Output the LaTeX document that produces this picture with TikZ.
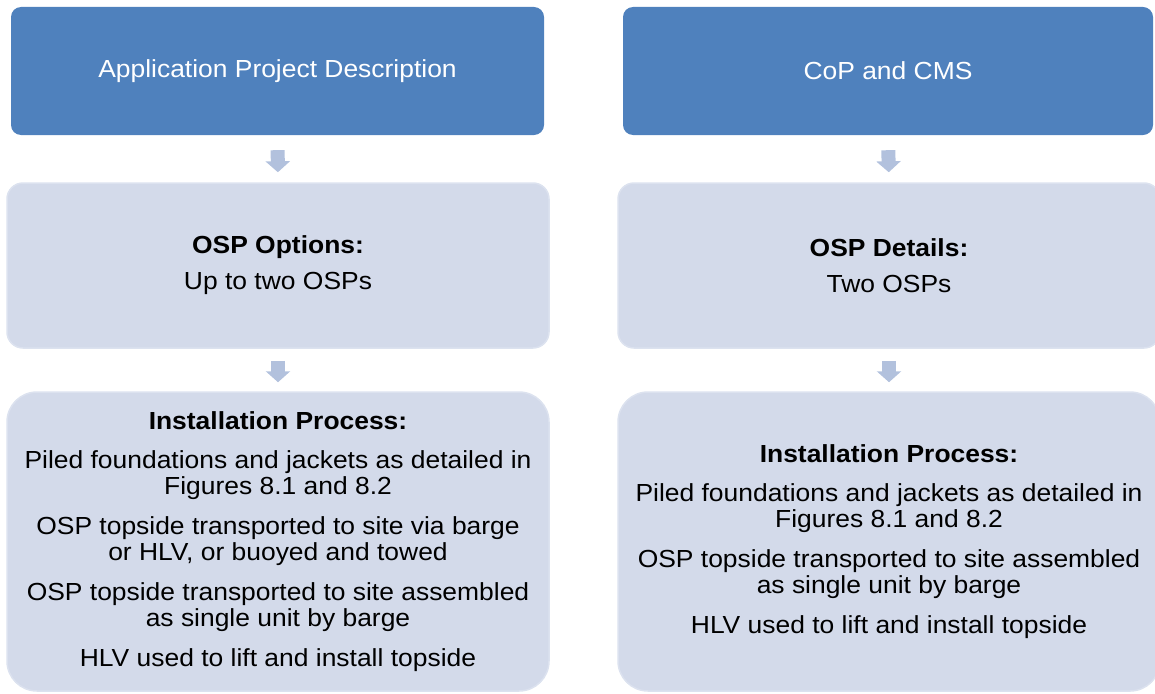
\documentclass[tikz,border=0pt]{standalone}
\usepackage{fontspec}
\setmainfont[FakeStretch=1.07]{Liberation Sans}
\usepackage{xcolor}
\usetikzlibrary{arrows.meta}

\definecolor{topblue}{HTML}{4F81BD}
\definecolor{paleblue}{HTML}{D3DAEA}
\definecolor{paleedge}{HTML}{DCE2EF}
\definecolor{arrowblue}{HTML}{B2C1DD}

\tikzset{
    headbox/.style={fill=topblue, text=white, rounded corners=10pt, inner sep=0pt,
        minimum height=128pt, align=center, font=\fontsize{24.7}{26}\selectfont},
    stagebox/.style={fill=paleblue, draw=paleedge, line width=1.5pt, inner sep=0pt,
        minimum width=542pt, align=center, font=\fontsize{24.7}{26}\selectfont},
    blockarrow/.style={arrowblue, line width=14pt, -{Triangle[width=24pt,length=11pt]}},
}

\begin{document}
\begin{tikzpicture}[x=1pt,y=-1pt]
        \useasboundingbox (0,0) rectangle (1155,693);
        \clip (0,0) rectangle (1155,693);

        \node[headbox, minimum width=533pt] (appl) at (277.5,71) {Application Project Description};
        \node[headbox, minimum width=530pt] (cop) at (888,71) {CoP and CMS};

        \node[stagebox, minimum height=165pt, rounded corners=16pt] (optL) at (278,265.5)
            {\bfseries OSP Options:\\[10pt] Up to two OSPs};
        \node[stagebox, minimum height=165pt, rounded corners=16pt] (optR) at (889,265.5)
            {\bfseries OSP Details:\\[10pt] Two OSPs};

        \node[stagebox, minimum height=299pt, rounded corners=30pt] (instL) at (278,541.5)
            {\bfseries Installation Process:\\[13pt]
             Piled foundations and jackets as detailed in\\ Figures 8.1 and 8.2\\[14pt]
             OSP topside transported to site via barge\\ or HLV, or buoyed and towed\\[14pt]
             OSP topside transported to site assembled\\ as single unit by barge\\[14pt]
             HLV used to lift and install topside};
        \node[stagebox, minimum height=299pt, rounded corners=30pt] (instR) at (889,541.5)
            {\bfseries Installation Process:\\[13pt]
             Piled foundations and jackets as detailed in\\ Figures 8.1 and 8.2\\[14pt]
             OSP topside transported to site assembled\\ as single unit by barge\\[14pt]
             HLV used to lift and install topside};

        \draw[blockarrow, shorten <=15pt, shorten >=10pt] (appl.south) -- (optL.north);
        \draw[blockarrow, shorten <=15pt, shorten >=10pt] (cop.south) -- (optR.north);
        \draw[blockarrow, shorten <=12pt, shorten >=9pt] (optL) -- (instL);
        \draw[blockarrow, shorten <=12pt, shorten >=9pt] (optR) -- (instR);
\end{tikzpicture}
\end{document}
